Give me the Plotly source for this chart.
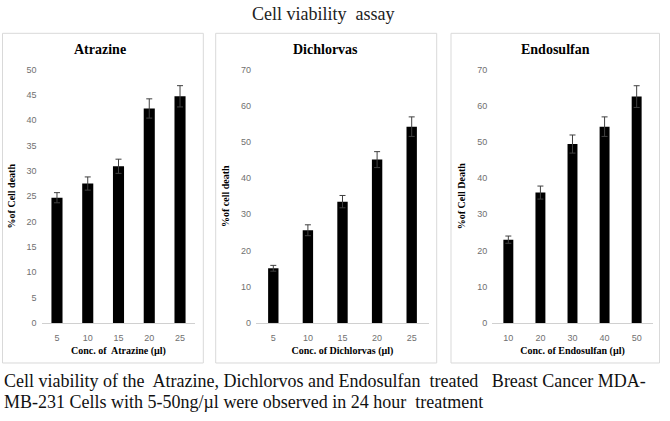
import plotly.graph_objects as go

W, H = 670, 421

# ---- data ----
atrazine_conc = ["5", "10", "15", "20", "25"]
atrazine_death = [24.7, 27.5, 30.9, 42.3, 44.7]
atrazine_err = [1.0, 1.3, 1.4, 1.9, 2.1]

dichlorvas_conc = ["5", "10", "15", "20", "25"]
dichlorvas_death = [15.1, 25.6, 33.5, 45.1, 54.2]
dichlorvas_err = [0.8, 1.5, 1.7, 2.2, 2.7]

endosulfan_conc = ["10", "20", "30", "40", "50"]
endosulfan_death = [23.0, 36.0, 49.4, 54.2, 62.5]
endosulfan_err = [1.0, 1.8, 2.5, 2.7, 3.0]

panel_titles = ["Atrazine", "Dichlorvas", "Endosulfan"]
x_titles = ["Conc. of  Atrazine (µl)", "Conc. of Dichlorvas (µl)", "Conc. of Endosulfan (µl)"]
y_titles = ["%of Cell death", "%of cell death", "%of Cell Death"]
y_max = [50, 70, 70]
y_dtick = [5, 10, 10]

main_title = "Cell viability  assay"
caption_lines = [
    "Cell viability of the  Atrazine, Dichlorvos and Endosulfan  treated   Breast Cancer MDA-",
    "MB-231 Cells with 5-50ng/µl were observed in 24 hour  treatment",
]

# ---- layout geometry (pixels) ----
plot_x = [(41.6, 195.4), (256.0, 429.0), (492.3, 652.7)]
plot_y = (66.0, 325.7)
boxes = [(2.5, 29, 203.3, 366.7), (215.7, 29, 436.7, 366.7), (451, 29, 659.5, 366.7)]
bar_widths = [0.36, 0.30, 0.31]
title_x = [100, 325, 555]
ystand = [9, 9, 9]

series = [
    (atrazine_conc, atrazine_death, atrazine_err),
    (dichlorvas_conc, dichlorvas_death, dichlorvas_err),
    (endosulfan_conc, endosulfan_death, endosulfan_err),
]

serif = "Liberation Serif, Times New Roman, serif"
sans = "Liberation Sans, Arial, sans-serif"


def nb(s):
    return s.replace("  ", "\u00a0 ")


fig = go.Figure()
layout = dict(
    width=W, height=H,
    margin=dict(l=0, r=0, t=0, b=0),
    paper_bgcolor="white", plot_bgcolor="white",
    showlegend=False,
)
shapes = []
annotations = []

for i, (cats, vals, errs) in enumerate(series):
    n = "" if i == 0 else str(i + 1)
    fig.add_trace(go.Bar(
        x=cats, y=vals,
        width=bar_widths[i],
        marker=dict(color="black", line=dict(width=0)),
        error_y=dict(type="data", array=errs, visible=True,
                     color="#404040", thickness=1, width=3),
        xaxis="x" + n, yaxis="y" + n,
    ))
    x0, x1 = plot_x[i]
    layout["xaxis" + n] = dict(
        domain=[x0 / W, x1 / W], anchor="y" + n,
        type="category",
        showline=True, linecolor="#d0d0d0", linewidth=1,
        showgrid=False, ticks="", ticklabelstandoff=6,
        tickfont=dict(family=sans, size=9, color="#707070"),
        title=dict(text="<b>" + nb(x_titles[i]) + "</b>",
                   font=dict(family=serif, size=10, color="black"), standoff=5),
    )
    layout["yaxis" + n] = dict(
        domain=[1 - plot_y[1] / H, 1 - plot_y[0] / H], anchor="x" + n,
        range=[0, y_max[i]], dtick=y_dtick[i],
        showline=False, showgrid=False, zeroline=False, ticks="", ticklabelstandoff=4,
        tickfont=dict(family=sans, size=9, color="#707070"),
        title=dict(text="<b>" + y_titles[i] + "</b>",
                   font=dict(family=serif, size=10, color="black"), standoff=ystand[i]),
    )
    bx0, by0, bx1, by1 = boxes[i]
    shapes.append(dict(type="rect", xref="paper", yref="paper",
                       x0=bx0 / W, x1=bx1 / W, y0=1 - by1 / H, y1=1 - by0 / H,
                       line=dict(color="#d9d9d9", width=1), fillcolor="rgba(0,0,0,0)",
                       layer="below"))
    annotations.append(dict(text="<b>" + panel_titles[i] + "</b>", xref="paper", yref="paper",
                            x=title_x[i] / W, y=1 - 46 / H, showarrow=False,
                            xanchor="center", yanchor="middle",
                            font=dict(family=serif, size=14, color="black")))

annotations.append(dict(text=nb(main_title), xref="paper", yref="paper",
                        x=323 / W, y=1 - 9 / H, showarrow=False,
                        xanchor="center", yanchor="middle",
                        font=dict(family=serif, size=18, color="#222222")))
for k, line in enumerate(caption_lines):
    annotations.append(dict(text=nb(line), xref="paper", yref="paper",
                            x=2 / W, y=1 - (385 + 21.5 * k) / H, showarrow=False,
                            xanchor="left", yanchor="middle",
                            font=dict(family=serif, size=18, color="#111111")))

layout["shapes"] = shapes
layout["annotations"] = annotations
fig.update_layout(**layout)
fig.write_html(
    "out.html",
    config={"displayModeBar": False},
    post_script="document.body.style.margin='0';document.body.style.overflow='hidden';",
)
